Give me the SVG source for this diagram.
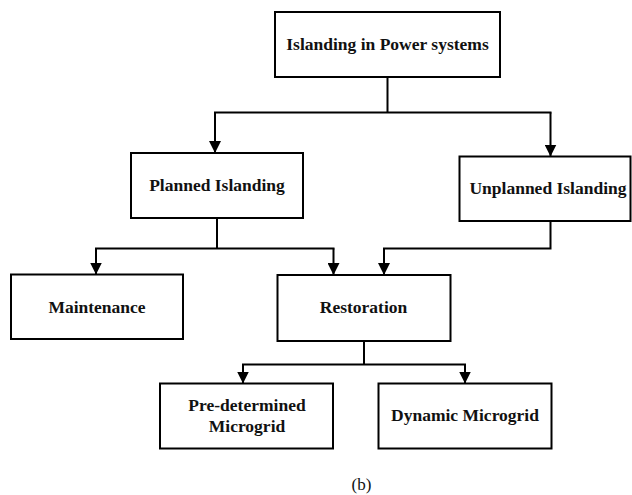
<svg xmlns="http://www.w3.org/2000/svg" width="632" height="495" viewBox="0 0 632 495">
<defs>
<marker id="ah" viewBox="0 0 12 12" refX="12" refY="6" markerWidth="12" markerHeight="12" markerUnits="userSpaceOnUse" orient="auto">
<path d="M0,0 L12,6 L0,12 z" fill="#000"/>
</marker>
<style>
.box{fill:#fff;stroke:#000;stroke-width:2}
.lbl{font-family:"Liberation Serif","Times New Roman",serif;font-weight:bold;font-size:17.5px;fill:#111;text-anchor:middle}
.cap{font-family:"Liberation Serif","Times New Roman",serif;font-size:17px;fill:#111;text-anchor:middle}
.ln{fill:none;stroke:#000;stroke-width:2}
.ar{fill:none;stroke:#000;stroke-width:2;marker-end:url(#ah)}
</style>
</defs>
<rect width="632" height="495" fill="#fff"/>
<g id="connectors">
<path class="ln" d="M387.5,77 V112.5 M214,112.5 H551.5"/>
<path class="ar" d="M215,112.5 V153"/>
<path class="ar" d="M550.5,112.5 V156.5"/>
<path class="ln" d="M217,218 V248.5 M95,248.5 H334.5"/>
<path class="ar" d="M96,248.5 V274.5"/>
<path class="ar" d="M333.5,248.5 V275"/>
<path class="ln" d="M550.5,221 V248.5 H383"/>
<path class="ar" d="M384,248.5 V275"/>
<path class="ln" d="M364,341 V364.5 M242,364.5 H466"/>
<path class="ar" d="M243,364.5 V383.5"/>
<path class="ar" d="M465,364.5 V383.5"/>
</g>
<g id="n-root">
<rect class="box" x="275" y="12" width="225" height="65"/>
<text class="lbl" x="387.5" y="50">Islanding in Power systems</text>
</g>
<g id="n-planned">
<rect class="box" x="131" y="153" width="172" height="65"/>
<text class="lbl" x="217" y="190.5">Planned Islanding</text>
</g>
<g id="n-unplanned">
<rect class="box" x="459.5" y="156.5" width="171" height="64.5"/>
<text class="lbl" x="548" y="194">Unplanned Islanding</text>
</g>
<g id="n-maintenance">
<rect class="box" x="11" y="274.5" width="172" height="64.5"/>
<text class="lbl" x="97" y="312.5">Maintenance</text>
</g>
<g id="n-restoration">
<rect class="box" x="277.5" y="275" width="173" height="66"/>
<text class="lbl" x="363.5" y="312.5">Restoration</text>
</g>
<g id="n-predetermined">
<rect class="box" x="160" y="383.5" width="173" height="65"/>
<text class="lbl" x="247" y="411">Pre-determined</text>
<text class="lbl" x="247" y="431.5">Microgrid</text>
</g>
<g id="n-dynamic">
<rect class="box" x="378.5" y="383.5" width="173" height="65"/>
<text class="lbl" x="465" y="421">Dynamic Microgrid</text>
</g>
<text class="cap" x="361.5" y="490">(b)</text>
</svg>
